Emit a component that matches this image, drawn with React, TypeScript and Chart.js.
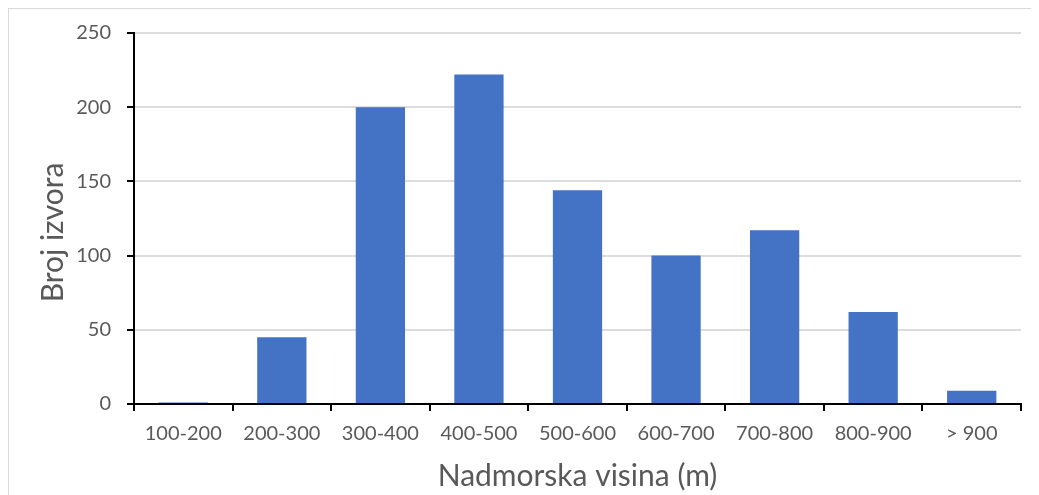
import React, { useEffect, useRef } from "react";
import { Chart, registerables } from "chart.js";

Chart.register(...registerables);

const categories: string[] = ["100-200", "200-300", "300-400", "400-500", "500-600", "600-700", "700-800", "800-900", "> 900"];
const springCounts: number[] = [1, 45, 200, 222, 144, 100, 117, 62, 9];
const yMin = 0;
const yMax = 250;
const yStep = 50;
const xTitle = "Nadmorska visina (m)";
const yTitle = "Broj izvora";

const TEXT = "#595959";
const FONT = "Lato, 'Open Sans', sans-serif";

const yTitlePlugin = {
  id: "yTitlePlugin",
  afterDraw(chart: any) {
    const { ctx, chartArea, scales } = chart;
    const x = scales.y.left + 44;
    const y = (chartArea.top + chartArea.bottom) / 2 + 14;
    ctx.save();
    ctx.translate(x, y);
    ctx.rotate(-Math.PI / 2);
    ctx.font = `30px ${FONT}`;
    ctx.fillStyle = TEXT;
    ctx.textAlign = "center";
    ctx.textBaseline = "middle";
    ctx.fillText(yTitle, 0, 0);
    ctx.restore();
  },
};

export default function App() {
  const ref = useRef<HTMLCanvasElement | null>(null);
  useEffect(() => {
    if (!ref.current) return;
    const chart = new Chart(ref.current, {
      type: "bar",
      data: {
        labels: categories,
        datasets: [
          {
            data: springCounts,
            backgroundColor: "#4472C4",
            borderWidth: 0,
            barPercentage: 0.5,
            categoryPercentage: 1,
          },
        ],
      },
      plugins: [yTitlePlugin],
      options: {
        responsive: false,
        animation: false,
        devicePixelRatio: 1,
        layout: { padding: { top: 24, right: 18, left: 0, bottom: 0 } },
        plugins: { legend: { display: false }, tooltip: { enabled: false } },
        scales: {
          x: {
            type: "category",
            offset: true,
            afterFit: (s: any) => {
              s.height = 91;
            },
            grid: {
              offset: true,
              drawOnChartArea: false,
              tickLength: 7,
              lineWidth: 2,
              tickWidth: 2,
              color: "#000000",
              tickColor: "#000000",
            },
            border: { color: "#000000", width: 2 },
            ticks: { color: TEXT, font: { family: FONT, size: 20 }, padding: 11, maxRotation: 0 },
            title: {
              display: true,
              text: xTitle,
              color: TEXT,
              font: { family: FONT, size: 30 },
              padding: { top: 0, bottom: 1 },
            },
          },
          y: {
            min: yMin,
            max: yMax,
            afterFit: (s: any) => {
              s.width = 125;
              s.paddingTop = 0;
              s.paddingBottom = 0;
            },
            ticks: { stepSize: yStep, color: TEXT, font: { family: FONT, size: 20 }, padding: 16 },
            grid: { color: "#dcdcdc", tickColor: "#000000", tickLength: 7, lineWidth: 2, tickWidth: 2 },
            border: { color: "#000000", width: 2 },
            title: { display: false },
          },
        },
      },
    });
    return () => chart.destroy();
  }, []);
  return (
    <div
      style={{
        width: 1031,
        height: 487,
        borderTop: "1px solid #d9d9d9",
        borderLeft: "1px solid #d9d9d9",
        boxSizing: "border-box",
        overflow: "hidden",
      }}
    >
      <canvas ref={ref} width={1030} height={486} style={{ display: "block", width: 1030, height: 486 }} />
    </div>
  );
}
